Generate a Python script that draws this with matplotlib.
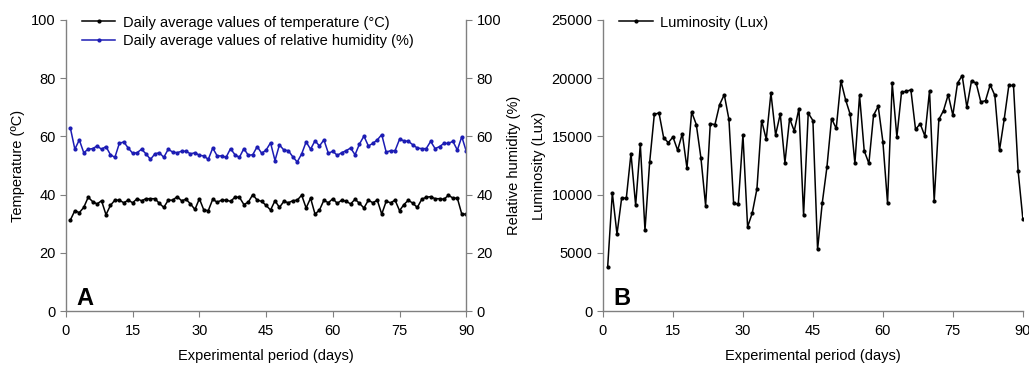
import numpy as np
import matplotlib.pyplot as plt

plt.rcParams['font.family'] = ['Liberation Sans', 'DejaVu Sans']

# days of the experimental period
days = np.arange(1, 91)

# daily average temperature (°C)
temperature = [31.3, 34.5, 33.8, 35.6, 39.1, 37.6, 36.8, 37.9, 33.1, 36.3,
               38.1, 38.1, 37.2, 38.1, 37.2, 38.6, 37.9, 38.6, 38.6, 38.6,
               37.0, 35.6, 38.1, 38.1, 39.3, 37.9, 38.4, 36.8, 34.9, 38.6,
               34.7, 34.5, 38.4, 37.4, 38.1, 38.1, 37.7, 39.1, 39.1, 36.6,
               37.4, 40.0, 38.1, 37.7, 36.3, 34.7, 37.9, 35.6, 37.7, 37.2,
               37.9, 38.1, 39.8, 35.4, 38.8, 33.3, 34.7, 38.1, 37.2, 38.6,
               37.0, 38.1, 37.7, 36.8, 38.4, 37.0, 35.4, 38.1, 37.2, 38.1,
               33.3, 37.7, 37.2, 38.1, 34.5, 36.6, 38.1, 37.0, 35.6, 38.4,
               39.1, 39.3, 38.6, 38.6, 38.4, 39.8, 38.8, 38.8, 33.3, 33.3]

# daily average relative humidity (%)
humidity = [62.8, 55.6, 58.8, 54.4, 55.6, 55.8, 56.7, 55.6, 56.5, 53.7,
            52.8, 57.6, 58.1, 56.0, 54.2, 54.4, 55.6, 54.0, 52.1, 54.0,
            54.4, 52.8, 55.6, 54.6, 54.4, 54.9, 54.9, 54.0, 54.4, 53.5,
            53.3, 52.1, 56.0, 53.3, 53.3, 52.8, 55.8, 53.7, 52.8, 55.8,
            53.5, 53.7, 56.5, 54.2, 55.3, 57.8, 51.7, 57.1, 55.3, 55.1,
            53.0, 51.2, 54.0, 58.1, 55.6, 58.5, 56.7, 58.8, 54.2, 54.9,
            53.5, 54.4, 55.1, 56.0, 53.7, 57.4, 60.1, 56.7, 57.6, 58.8,
            60.6, 54.6, 55.1, 55.1, 59.0, 58.5, 58.3, 57.1, 56.0, 55.8,
            55.8, 58.3, 55.8, 56.5, 57.6, 57.6, 58.3, 55.3, 59.9, 54.9]

# daily luminosity (Lux)
luminosity = [3770, 10150, 6610, 9700, 9700, 13530, 9080, 14320, 6950, 12760,
              16880, 17020, 14890, 14460, 14950, 13810, 15230, 12280, 17100, 16020,
              13130, 9050, 16080, 16020, 17730, 18580, 16450, 9270, 9160, 15120,
              7230, 8420, 10490, 16360, 14750, 18720, 15120, 16930, 12730, 16530,
              15460, 17390, 8250, 17000, 16360, 5300, 9270, 12340, 16530, 15680,
              19770, 18150, 16880, 12680, 18520, 13760, 12680, 16820, 17580, 14550,
              9270, 19570, 14950, 18800, 18860, 19000, 15600, 16080, 15030, 18920,
              9440, 16450, 17220, 18580, 16820, 19570, 20220, 17500, 19770, 19570,
              17950, 18070, 19430, 18520, 13810, 16450, 19370, 19370, 12000, 7940]

xticks = [0, 15, 30, 45, 60, 75, 90]
spine_color = '#808080'
blue = '#1c1cb4'
ms = 2.0
lw = 1.1

fig = plt.figure(figsize=(10.29, 3.69), dpi=100)

def style_axis(ax, right=False):
    ax.spines['top'].set_visible(False)
    if not right:
        ax.spines['right'].set_visible(False)
    for s in ax.spines.values():
        s.set_color(spine_color)
        s.set_linewidth(1.0)
    ax.tick_params(direction='out', length=4, color=spine_color, labelsize=10.5)
    ax.tick_params(axis='x', pad=5)

# ---- panel A ----
ax1 = fig.add_axes([0.0641, 0.157, 0.389, 0.789])
ax1.plot(days, temperature, color='black', marker='o', markersize=ms, linewidth=lw,
         label='Daily average values of temperature (°C)')
ax1.plot([], [], color=blue, marker='o', markersize=ms, linewidth=lw,
         label='Daily average values of relative humidity (%)')
ax2 = ax1.twinx()
ax2.plot(days, humidity, color=blue, marker='o', markersize=ms, linewidth=lw)

ax1.set_xlim(0, 90)
ax1.set_ylim(0, 100)
ax2.set_ylim(0, 100)
ax1.set_xticks(xticks)
ax1.set_yticks(range(0, 101, 20))
ax2.set_yticks(range(0, 101, 20))
style_axis(ax1)
style_axis(ax2, right=True)
ax2.spines['left'].set_visible(False)
ax2.spines['bottom'].set_visible(False)
ax1.set_xlabel('Experimental period (days)', fontsize=10.5, labelpad=8)
ax1.set_ylabel('Temperature (ºC)', fontsize=10.5, labelpad=4)
ax2.set_ylabel('Relative humidity (%)', fontsize=10.5, labelpad=4)
ax1.legend(loc='upper left', frameon=False, fontsize=10.5, numpoints=1,
           handlelength=2.3, handletextpad=0.5, borderaxespad=0.0,
           bbox_to_anchor=(0.025, 1.035), labelspacing=0.3)
ax1.text(0.025, 0.02, 'A', transform=ax1.transAxes, fontsize=17, fontweight='bold')

# ---- panel B ----
ax3 = fig.add_axes([0.586, 0.157, 0.408, 0.789])
ax3.plot(days, luminosity, color='black', marker='o', markersize=ms, linewidth=lw,
         label='Luminosity (Lux)')
ax3.set_xlim(0, 90)
ax3.set_ylim(0, 25000)
ax3.set_xticks(xticks)
ax3.set_yticks(range(0, 25001, 5000))
style_axis(ax3)
ax3.set_xlabel('Experimental period (days)', fontsize=10.5, labelpad=8)
ax3.set_ylabel('Luminosity (Lux)', fontsize=10.5, labelpad=4)
ax3.legend(loc='upper left', frameon=False, fontsize=10.5, numpoints=1,
           handlelength=2.3, handletextpad=0.5, borderaxespad=0.0,
           bbox_to_anchor=(0.025, 1.035))
ax3.text(0.025, 0.02, 'B', transform=ax3.transAxes, fontsize=17, fontweight='bold')

fig.savefig('out.png', dpi=100)
